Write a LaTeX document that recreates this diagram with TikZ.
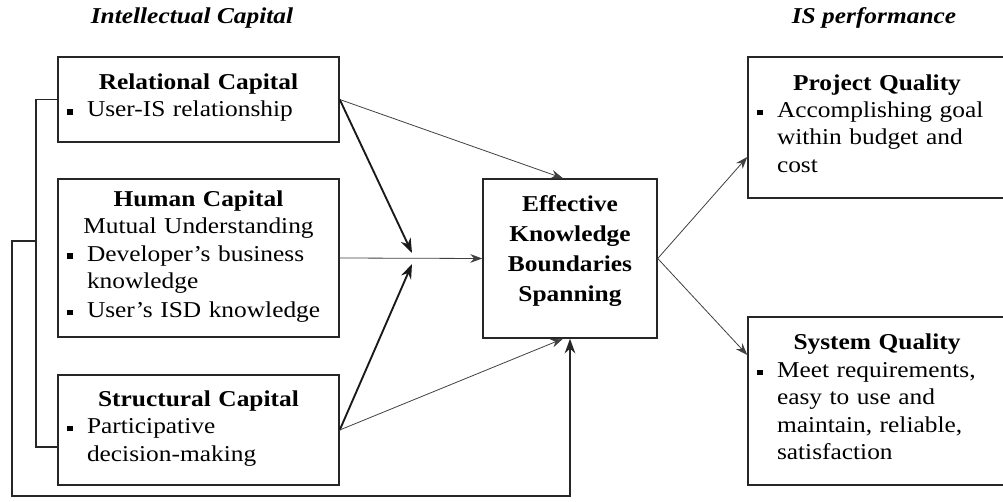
\documentclass[tikz,border=0pt]{standalone}
\usepackage{fontspec}
\setmainfont{Liberation Serif}[FakeStretch=1.12]
\usetikzlibrary{arrows.meta,calc}
\newcommand{\bul}{\makebox[21.75pt][l]{\hspace{7pt}\rule[0.1em]{4pt}{4pt}}}
\newcommand{\itm}[1]{\par\raggedright\noindent\bul\begin{tabular}[t]{@{}l@{}}#1\end{tabular}}
\tikzset{
  box/.style={draw=black!85, line width=1.1pt, rectangle, inner xsep=0pt, inner ysep=0pt,
    font=\fontsize{17pt}{20.6pt}\selectfont},
  thinarrow/.style={draw=black!75, line width=0.6pt, -{Stealth[length=9pt,width=6.5pt]}},
  thickarrow/.style={draw=black!90, line width=1.4pt, -{Stealth[length=11pt,width=8pt]}},
  bracketline/.style={draw=black!85, line width=1.3pt},
  heading/.style={font=\fontsize{17pt}{20pt}\selectfont\bfseries\itshape, inner sep=0pt},
  efftext/.style={font=\fontsize{17pt}{22.5pt}\selectfont\bfseries, align=center, inner sep=0pt}
}
\begin{document}
\begin{tikzpicture}[x=0.75pt,y=-0.75pt]
\useasboundingbox (0,0) rectangle (1003,502);

\node[heading] (t1) at (192,18) {Intellectual Capital};
\node[heading] (t2) at (874,18) {IS performance};

\node[box, minimum width=281*0.75pt, minimum height=85*0.75pt, text width=281*0.75pt] (rel) at (198.5,99.5)
  {\centering\textbf{Relational Capital}\itm{User-IS relationship}};
\node[box, minimum width=281*0.75pt, minimum height=158*0.75pt, text width=281*0.75pt] (hum) at (198.5,258)
  {\centering\textbf{Human Capital}\par Mutual Understanding\itm{Developer's business\\knowledge}\itm{User's ISD knowledge}};
\node[box, minimum width=281*0.75pt, minimum height=110*0.75pt, text width=281*0.75pt] (str) at (198.5,430)
  {\centering\textbf{Structural Capital}\itm{Participative\\decision-making}};
\node[box, minimum width=174*0.75pt, minimum height=159*0.75pt] (eff) at (570,258.5) {};
\node[efftext] (efft) at (570,251) {Effective\\Knowledge\\Boundaries\\Spanning};
\node[box, minimum width=258*0.75pt, minimum height=141*0.75pt, text width=258*0.75pt] (pq) at (877,127.5)
  {\centering\textbf{Project Quality}\itm{Accomplishing goal\\within budget and\\cost}};
\node[box, minimum width=258*0.75pt, minimum height=168*0.75pt, text width=258*0.75pt] (sq) at (877,401)
  {\centering\textbf{System Quality}\itm{Meet requirements,\\easy to use and\\maintain, reliable,\\satisfaction}};

\coordinate (m1) at (412,253);
\coordinate (m2) at (412,264);
\coordinate (b1) at (36,99.5);
\coordinate (b2) at (36,447);
\coordinate (f0) at (36,241);
\coordinate (f1) at (12,241);
\coordinate (f2) at (12,496);
\coordinate (f3) at (570,496);

\draw[thinarrow] (rel.east) -- ($(eff.north)+(-7,0)$);
\draw[thickarrow] (rel.east) -- (m1);
\draw[thinarrow] (hum.east) -- (eff.west);
\draw[thickarrow] (str.east) -- (m2);
\draw[thinarrow] (str.east) -- ($(eff.south)+(-7,0)$);
\draw[thinarrow] (eff.east) -- ($(pq.west)+(0,29.5)$);
\draw[thinarrow] (eff.east) -- ($(sq.west)+(0,-46)$);
\draw[bracketline] (rel.west) -- (b1) -- (b2) -- (str.west |- b2);
\draw[bracketline, -{Stealth[length=11pt,width=8pt]}] (f0) -- (f1) -- (f2) -- (f3) -- (eff.south);
\end{tikzpicture}
\end{document}
